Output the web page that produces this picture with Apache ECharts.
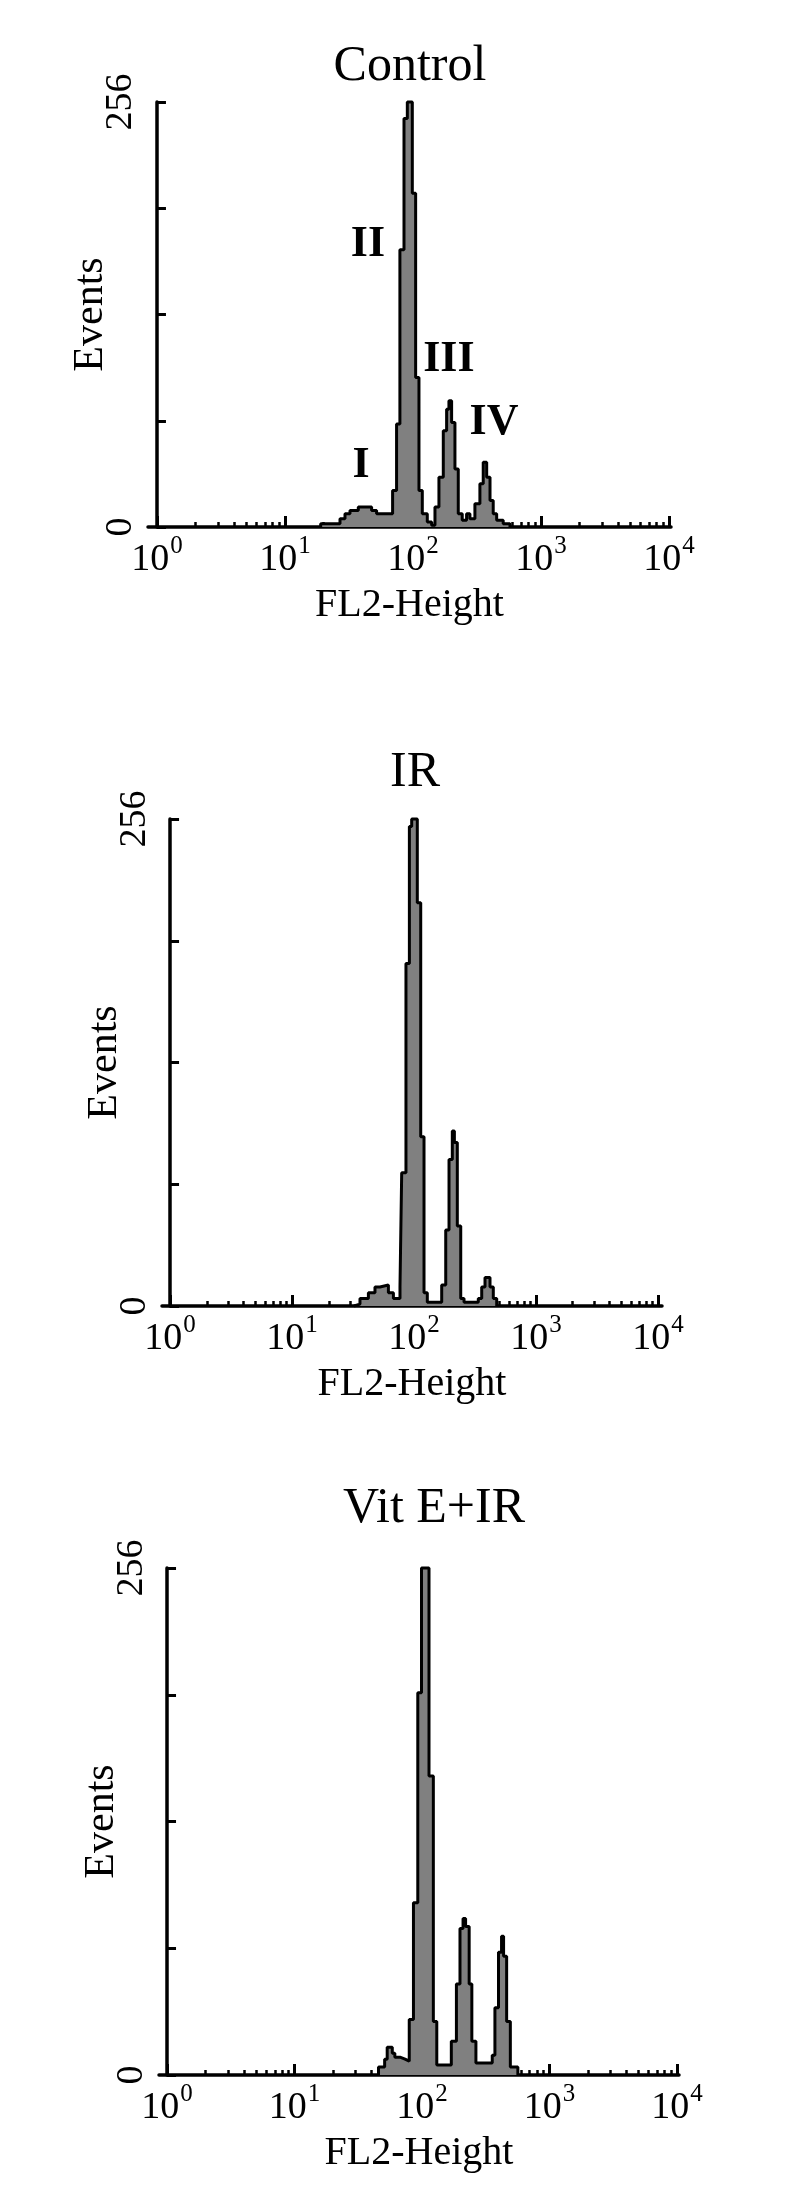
<!DOCTYPE html>
<html>
<head>
<meta charset="utf-8">
<script src="https://cdn.jsdelivr.net/npm/echarts@6/dist/echarts.min.js"></script>
<style>
html,body{margin:0;padding:0;background:#ffffff;}
#chart{width:800px;height:2208px;}
</style>
</head>
<body>
<div id="chart"></div>
<script>
// ---------- data (x in decades of FL2-Height, y = events) ----------
const panelTitles = ['Control', 'IR', 'Vit E+IR'];
const xTickExponents = [0, 1, 2, 3, 4];
const minorMultipliers = [2, 3, 4, 5, 6, 7, 8, 9];
const yTickLabels = [0, 256];
const yMax = 256;
const yInterval = 64;

const controlEdges = [1.279, 1.430, 1.469, 1.508, 1.573, 1.625, 1.677, 1.716, 1.841, 1.872,
  1.898, 1.930, 1.956, 1.995, 2.021, 2.047, 2.073, 2.112, 2.146, 2.172,
  2.203, 2.237, 2.263, 2.281, 2.302, 2.328, 2.354, 2.385, 2.419, 2.445,
  2.484, 2.523, 2.549, 2.576, 2.602, 2.627, 2.654, 2.705, 2.758];
const controlCounts = [2, 5, 8, 10, 12, 12, 10, 8, 22, 62,
  167, 246, 256, 201, 90, 22, 8, 3, 1, 12,
  30, 58, 71, 76, 63, 35, 8, 4, 8, 5,
  14, 26, 39, 30, 16, 8, 4, 2];

const irEdges = [1.508, 1.557, 1.626, 1.680, 1.721, 1.790, 1.831, 1.885, 1.899, 1.934,
  1.962, 1.981, 2.027, 2.055, 2.082, 2.109, 2.227, 2.260, 2.287, 2.314,
  2.331, 2.355, 2.383, 2.410, 2.527, 2.555, 2.582, 2.623, 2.650, 2.678];
const irCounts = [1, 4, 7, 10, 11, 7, 4, 10, 70, 180,
  252, 256, 212, 89, 7, 2, 11, 40, 77, 92,
  86, 42, 4, 2, 4, 10, 15, 10, 4];

const vitEdges = [1.659, 1.707, 1.727, 1.767, 1.787, 1.827, 1.867, 1.900, 1.933, 1.967,
  1.996, 2.055, 2.089, 2.116, 2.230, 2.270, 2.298, 2.322, 2.342, 2.370,
  2.391, 2.423, 2.551, 2.572, 2.600, 2.624, 2.640, 2.664, 2.693, 2.752];
const vitCounts = [4, 8, 14, 11, 9, 8, 7, 28, 87, 193,
  256, 151, 27, 5, 17, 46, 74, 79, 75, 46,
  17, 6, 10, 34, 62, 70, 60, 27, 4];

// cell-cycle phase annotations on the Control histogram (data coordinates)
const phaseLabels = ['I', 'II', 'III', 'IV'];
const phaseLabelDecade = [1.594, 1.648, 2.281, 2.633];
const phaseLabelEvents = [37, 170, 101, 63];

// ---------- layout ----------
const FONT = '"Liberation Serif", "Times New Roman", serif';
const layouts = [
  {grid: {left: 148, top: 102, width: 523, height: 425}, xMin: -0.070, xMax: 4.016, title: [410, 67]},
  {grid: {left: 162, top: 819, width: 500, height: 487}, xMin: -0.066, xMax: 4.033, title: [415, 773]},
  {grid: {left: 159, top: 1568, width: 520, height: 507}, xMin: -0.063, xMax: 4.016, title: [434, 1509]}
];
const histos = [
  {edges: controlEdges, counts: controlCounts},
  {edges: irEdges, counts: irCounts},
  {edges: vitEdges, counts: vitCounts}
];

function stepData(edges, counts) {
  const d = [[edges[0], 0]];
  for (let i = 0; i < counts.length; i++) d.push([edges[i], counts[i]]);
  d.push([edges[edges.length - 1], 0]);
  return d;
}

const minorTicks = [];
for (let d = 0; d < 4; d++) minorMultipliers.forEach(m => minorTicks.push(d + Math.log10(m)));

const option = {
  backgroundColor: '#ffffff',
  animation: false,
  grid: [], xAxis: [], yAxis: [], series: [], graphic: []
};

layouts.forEach((L, i) => {
  option.grid.push(Object.assign({containLabel: false}, L.grid));
  option.xAxis.push({
    type: 'value', gridIndex: i, min: L.xMin, max: L.xMax, position: 'bottom',
    axisLine: {show: true, onZero: false, lineStyle: {color: '#000', width: 3.5}},
    axisTick: {show: true, inside: true, length: 11, customValues: xTickExponents,
      lineStyle: {color: '#000', width: 3}},
    splitLine: {show: false},
    axisLabel: {show: true, customValues: xTickExponents, margin: 6,
      formatter: v => '{b|10}{s|' + Math.round(v) + '}',
      rich: {
        b: {fontFamily: FONT, fontSize: 38, color: '#000', lineHeight: 46, verticalAlign: 'bottom'},
        s: {fontFamily: FONT, fontSize: 25, color: '#000', lineHeight: 25, padding: [0, 0, 20, 1], verticalAlign: 'bottom'}
      }},
    name: 'FL2-Height', nameLocation: 'middle', nameGap: 58, nameMoveOverlap: false,
    nameTextStyle: {fontFamily: FONT, fontSize: 40, color: '#000'}
  });
  option.xAxis.push({
    type: 'value', gridIndex: i, min: L.xMin, max: L.xMax, position: 'bottom',
    axisLine: {show: false},
    axisTick: {show: true, inside: true, length: 5, customValues: minorTicks,
      lineStyle: {color: '#000', width: 2.5}},
    axisLabel: {show: false}, splitLine: {show: false}
  });
  option.yAxis.push({
    type: 'value', gridIndex: i, min: 0, max: yMax, interval: yInterval,
    axisLine: {show: true, lineStyle: {color: '#000', width: 3.5}},
    axisTick: {show: true, inside: true, length: 9, lineStyle: {color: '#000', width: 3}},
    splitLine: {show: false},
    axisLabel: {show: true, customValues: yTickLabels, rotate: 90, margin: 8,
      fontFamily: FONT, fontSize: 38, color: '#000'},
    name: 'Events', nameLocation: 'middle', nameRotate: 90, nameGap: 36, nameMoveOverlap: false,
    nameTextStyle: {fontFamily: FONT, fontSize: 42, color: '#000'}
  });
  const s = {
    type: 'line', xAxisIndex: 2 * i, yAxisIndex: i,
    data: stepData(histos[i].edges, histos[i].counts),
    step: 'end', symbol: 'none', clip: false, silent: true,
    lineStyle: {color: '#000', width: 3},
    areaStyle: {color: '#808080', opacity: 1}
  };
  if (i === 0) {
    s.markPoint = {
      silent: true,
      symbol: 'circle', symbolSize: 1,
      itemStyle: {color: 'rgba(0,0,0,0)'},
      label: {show: true, position: 'inside', formatter: p => p.name,
        fontFamily: FONT, fontSize: 44, fontWeight: 'bold', color: '#000'},
      data: phaseLabels.map((t, k) => ({name: t, coord: [phaseLabelDecade[k], phaseLabelEvents[k]]}))
    };
  }
  option.series.push(s);
  option.graphic.push({
    type: 'text', x: L.title[0], y: L.title[1], silent: true,
    style: {text: panelTitles[i], fontFamily: FONT, fontSize: 50, fill: '#000',
      align: 'center', verticalAlign: 'middle'}
  });
});

const chart = echarts.init(document.getElementById('chart'), null, {renderer: 'canvas'});
chart.setOption(option);
</script>
</body>
</html>
